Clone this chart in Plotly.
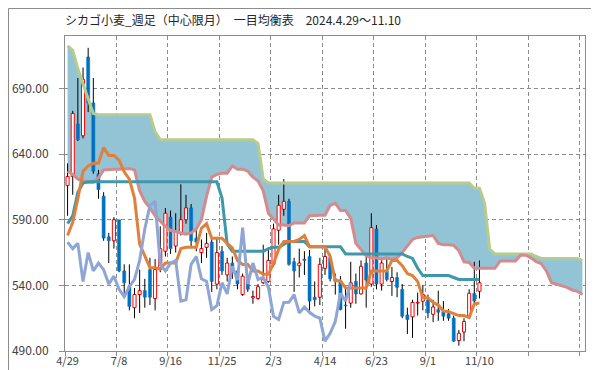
import plotly.graph_objects as go

title_text = "シカゴ小麦_週足（中心限月）\u3000一目均衡表\u30002024.4.29～11.10"

tick_labels = ["4/29", "7/8", "9/16", "11/25", "2/3", "4/14", "6/23", "9/1", "11/10"]
tick_weeks = [0, 10, 20, 30, 40, 50, 60, 70, 80]
grid_weeks = [0, 10, 20, 30, 40, 50, 60, 70, 80, 90, 100]
price_ticks = [490, 540, 590, 640, 690]

open_ = [616, 623, 663, 654, 714, 679, 625, 608, 577, 574,
         590, 551, 539, 523, 533, 536, 552, 530, 552, 566,
         592, 570, 580, 590, 599, 576, 565, 569, 573, 541,
         566, 548, 557, 551, 533, 543, 530.5, 530, 542, 543,
         556, 582, 598, 604, 558, 555, 560, 562, 531, 531,
         553, 561, 545, 543, 525, 526.5, 543, 533.5, 557, 541,
         583, 541, 551, 543, 546, 537, 517.5, 516, 526.5, 528,
         529, 518, 521.5, 520, 518.5, 515, 498, 504.5, 516, 534,
         535.5]
high = [633, 673, 698, 706, 721, 698, 628, 611, 580, 592,
        590, 556, 556, 538, 552, 545, 561, 560, 585, 599,
        597, 595, 617, 609, 602, 583, 575, 580, 576, 576,
        570, 561, 562, 553, 549, 546, 536, 541, 571, 568,
        587, 609, 621, 606, 561, 568, 566, 567, 543, 561,
        569, 564, 549, 547, 538, 558, 549, 559, 564, 595,
        586, 561, 561, 554, 550, 541, 523, 529, 534.5, 540,
        533, 529, 536, 528, 522, 517, 506, 515, 537, 558,
        559]
low = [593, 609, 650, 652, 672, 625, 606, 574, 557, 568,
       550, 532, 521, 515, 519, 523, 525, 521, 550, 562,
       564, 565, 578, 587, 570, 566, 557, 561, 535, 537,
       548, 543, 545, 537, 532, 535, 526, 529, 541, 542,
       554, 571, 593, 555, 535, 546, 548, 518, 524, 525,
       548, 543, 533, 521, 507, 523, 526, 533, 523, 539,
       537, 536, 543, 532, 531, 515, 503, 500, 517, 521,
       515, 512, 513, 513, 513, 497, 494, 497.5, 515, 525,
       530]
close = [623, 671, 651, 697, 679, 627, 613, 576, 574, 590,
         551, 542, 524, 533, 536, 531, 531, 552, 568, 595,
         568, 581, 590, 599, 574, 573, 568, 572, 543, 565,
         551, 557, 552, 541, 547, 537, 531.5, 539, 544.5, 559,
         583, 601, 604, 556, 551, 557, 559, 528, 529, 556,
         562, 545, 543, 521.5, 524.5, 542, 533.5, 554.5, 544, 584,
         541, 557, 544.5, 546, 538.5, 516.5, 514, 527, 527.1, 533,
         519, 523.5, 519.5, 516.5, 515, 497.5, 503.5, 512.5, 534, 528,
         542]

# 転換線
tenkan = [578, 588, 606, 627, 631, 633, 633, 645, 639, 639,
          635.5, 626.5, 621, 606.5, 571.5, 563, 553.5, 553.5, 552.5, 557,
          557, 557, 568, 569, 569, 569, 583.5, 587, 576, 576,
          576, 572, 568.5, 559, 556, 556, 551, 551, 548.5, 548.5,
          556.5, 567.5, 573.5, 573.5, 573.5, 575, 578, 569.5, 569.5, 569.5,
          569.5, 562, 543.5, 543.5, 538, 538, 538, 538, 538, 551,
          551, 551, 551, 559, 559, 555, 549, 547.5, 543, 530.5,
          530.5, 527, 525, 520.5, 520, 518.5, 517, 517, 515.5, 526,
          526.5]
# 基準線
kijun = [587, 593, 611, 618, 619, 619, 619, 619, 619, 619,
         619, 619, 619, 619, 619, 619, 619, 619, 619, 619,
         619, 619, 619, 619, 619, 619, 619, 619, 619, 619,
         606.5, 571.5, 566, 566, 566, 566, 566, 566, 566, 568,
         569, 569, 571, 573.5, 573.5, 573.5, 573.5, 569.5, 569.5, 569.5,
         569.5, 569.5, 569.5, 569.5, 564, 564, 564, 564, 564, 564,
         564, 564, 564, 564, 564, 564, 562, 560.5, 553, 547.5,
         547.5, 547.5, 547.5, 547.5, 547.5, 546, 544.5, 544.5, 544.5, 544.5,
         544.5]
# 遅行スパン
lagging = [573, 568, 572, 543, 565, 551, 557, 552, 541, 547,
           537, 531.5, 539, 544.5, 559, 583, 601, 604, 556, 551,
           557, 559, 528, 529, 556, 562, 545, 543, 521.5, 524.5,
           542, 533.5, 554.5, 544, 584, 541, 557, 544.5, 546, 538.5,
           516.5, 514, 527, 527.1, 533, 519, 523.5, 519.5, 516.5, 515,
           497.5, 503.5, 512.5, 534, 528, 542]
# 先行スパンA
senkou_a = [627, 624.5, 621, 619.5, 618.5, 618.5, 622, 628, 628.5, 628.5,
            628.5, 628.5, 629, 628, 612, 604, 599, 593, 589, 585,
            582, 581, 580, 579, 580, 583, 590, 608, 622.5, 624.5,
            625.5, 625.5, 631, 628.5, 628.5, 627, 622.5, 619.5, 612, 595,
            590.5, 586, 586, 585.5, 587.5, 587.5, 587.5, 593, 593.5, 593.5,
            593.5, 601, 602.5, 597, 597, 591, 572, 567.5, 562.5, 561,
            561, 560, 561, 560, 561, 565, 570, 575, 576.5, 577,
            578, 578, 572, 571, 571, 570.5, 566.5, 558, 557.5, 553,
            553, 553, 553, 553, 558.5, 558.5, 558.5, 558.5, 563, 563,
            561, 558, 556.5, 551, 542, 541, 539.5, 538.5, 536.5, 535.5,
            533]
# 先行スパンB
senkou_b = [722.5, 719, 705, 693, 682, 671, 670, 670, 670, 670,
            670, 670, 670, 670, 670, 670, 670, 657, 651, 651,
            651, 651, 651, 651, 651, 651, 651, 651, 651, 651,
            651, 651, 651, 651, 651, 651, 651, 648, 621, 618,
            618, 618, 618, 618, 618, 618, 618, 618, 618, 618,
            618, 618, 618, 618, 618, 618, 618, 618, 618, 618,
            618, 618, 618, 618, 618, 618, 618, 618, 618, 618,
            618, 618, 618, 618, 618, 618, 618, 618, 618, 614,
            614, 602.5, 567.5, 564, 564, 564, 564, 564, 564, 564,
            564, 562, 560.5, 560.5, 560.5, 560.5, 560.5, 560.5, 560.5, 560.5,
            559]

# ---- style / layout ----
W, H = 599, 370
ML, MR, MT, MB = 57, 22, 28, 27
PW, PH = W - ML - MR, H - MT - MB
X_RANGE = [-0.5, 100.5]
Y_RANGE = [490, 730]

CLOUD = "#92C4D6"
GREEN = "#B6CC8E"
PINK = "#D48B8D"
TEAL = "#3F97AA"
ORANGE = "#E0803B"
LAVENDER = "#8FA5D3"
UP = "#FF0000"
DOWN = "#0070C0"
GRID = "#8C8C8C"
TXT = "#404040"
FONT = "Noto Sans CJK JP, Noto Sans, sans-serif"
LW = 3

weeks = list(range(len(close)))
cloud_weeks = list(range(len(senkou_a)))
lag_weeks = list(range(len(lagging)))

fig = go.Figure()

# cloud (base subplot, beneath candles)
fig.add_trace(go.Scatter(x=cloud_weeks, y=senkou_b, mode="lines",
                         line=dict(width=0, color=CLOUD), hoverinfo="skip", showlegend=False))
fig.add_trace(go.Scatter(x=cloud_weeks, y=senkou_a, mode="lines", fill="tonexty",
                         fillcolor=CLOUD, line=dict(width=0, color=CLOUD),
                         hoverinfo="skip", showlegend=False))

# candle bodies (overlay subplot)
up = [i for i in weeks if close[i] >= open_[i]]
dn = [i for i in weeks if close[i] < open_[i]]
fig.add_trace(go.Bar(x=up, base=[open_[i] for i in up], y=[close[i] - open_[i] for i in up],
                     width=0.6, marker=dict(color="white", line=dict(color=UP, width=1)),
                     xaxis="x2", yaxis="y2", showlegend=False, hoverinfo="skip"))
fig.add_trace(go.Bar(x=dn, base=[close[i] for i in dn], y=[open_[i] - close[i] for i in dn],
                     width=0.6, marker=dict(color=DOWN, line=dict(color=DOWN, width=0.5)),
                     xaxis="x2", yaxis="y2", showlegend=False, hoverinfo="skip"))

# wicks (upper and lower parts, so hollow bodies stay white)
wx, wy = [], []
for i in weeks:
    top = max(open_[i], close[i])
    bot = min(open_[i], close[i])
    wx += [i, i, None, i, i, None]
    wy += [top, high[i], None, low[i], bot, None]
fig.add_trace(go.Scatter(x=wx, y=wy, mode="lines", line=dict(color="black", width=1),
                         xaxis="x2", yaxis="y2", showlegend=False, hoverinfo="skip"))

# ichimoku lines
for xs, ys, col in [(cloud_weeks, senkou_b, GREEN), (cloud_weeks, senkou_a, PINK),
                    (weeks, kijun, TEAL), (weeks, tenkan, ORANGE), (lag_weeks, lagging, LAVENDER)]:
    fig.add_trace(go.Scatter(x=xs, y=ys, mode="lines", line=dict(color=col, width=LW),
                             xaxis="x2", yaxis="y2", showlegend=False, hoverinfo="skip"))

dash = "4px,3px"
fig.update_layout(
    width=W, height=H,
    margin=dict(l=ML, r=MR, t=MT, b=MB, pad=0, autoexpand=False),
    paper_bgcolor="white", plot_bgcolor="white",
    barmode="overlay",
    font=dict(family=FONT, size=11, color=TXT),
    title=dict(text=title_text, x=57 / W, xanchor="left", y=1 - 13 / H, yanchor="middle",
               font=dict(family=FONT, size=12, color="#262626")),
    xaxis=dict(range=X_RANGE, tickmode="array", tickvals=tick_weeks, ticktext=tick_labels,
               ticks="", showgrid=False, zeroline=False, showline=True, mirror=True,
               linecolor=GRID, linewidth=1, automargin=False,
               tickfont=dict(size=11, color=TXT),
               minor=dict(tickmode="array", tickvals=[w - 0.5 for w in grid_weeks],
                          ticks="outside", ticklen=4, tickcolor=GRID,
                          showgrid=True, gridcolor=GRID, griddash=dash, gridwidth=1)),
    yaxis=dict(range=Y_RANGE, tickmode="array", tickvals=price_ticks, tickformat=".2f",
               ticks="outside", ticklen=5, tickcolor=GRID, ticklabelstandoff=8,
               showgrid=True, gridcolor=GRID, griddash=dash, gridwidth=1,
               zeroline=False, showline=True, mirror=True, linecolor=GRID, linewidth=1,
               automargin=False, tickfont=dict(size=12, color=TXT)),
    xaxis2=dict(range=X_RANGE, overlaying="x", anchor="y2", visible=False),
    yaxis2=dict(range=Y_RANGE, overlaying="y", anchor="x2", visible=False),
    shapes=[dict(type="rect", xref="paper", yref="paper",
                 x0=-(ML - 0.5) / PW, x1=1 + (MR - 0.5) / PW,
                 y0=-(MB - 0.5) / PH, y1=1 + (MT - 0.5) / PH,
                 line=dict(color="#8C8C8C", width=1), layer="below")],
)

fig.write_html("out.html")
